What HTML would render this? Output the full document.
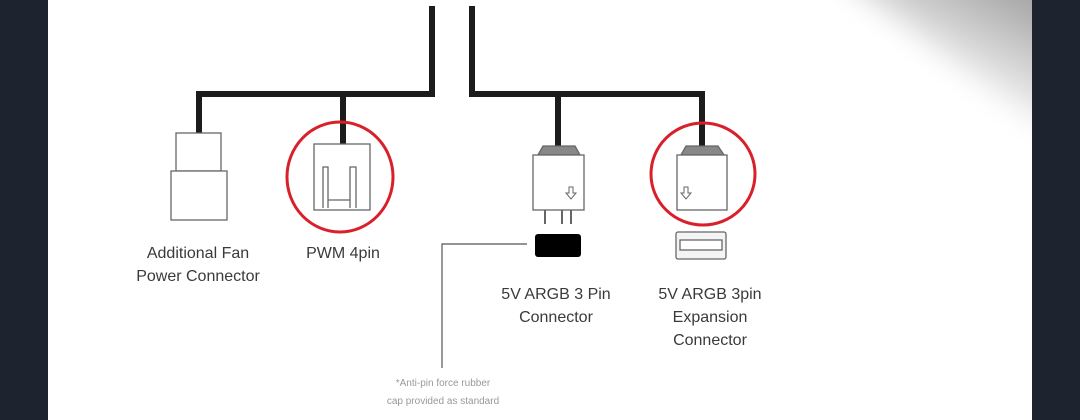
<!DOCTYPE html>
<html><head><meta charset="utf-8"><style>
html,body{margin:0;padding:0;width:1080px;height:420px;overflow:hidden;background:#1e2330}
#c{position:absolute;left:48px;top:0;width:984px;height:420px;background:#fff;overflow:hidden}
svg{position:absolute;left:0;top:0}
text{font-family:"Liberation Sans",sans-serif;fill:#3a3a3a;text-anchor:middle}
</style></head><body>
<div id="c"></div>
<svg width="1080" height="420" viewBox="0 0 1080 420">
<defs><linearGradient id="gr" gradientUnits="userSpaceOnUse" x1="1032" y1="0" x2="975" y2="110">
<stop offset="0" stop-color="#a6a6a6"/><stop offset="0.6" stop-color="#dcdcdc"/><stop offset="1" stop-color="#fff"/></linearGradient>
<filter id="bl" x="-50%" y="-50%" width="200%" height="200%"><feGaussianBlur stdDeviation="14"/></filter></defs>
<polygon points="790,-60 1100,-60 1100,170" fill="url(#gr)" filter="url(#bl)"/>
<rect x="1032" y="0" width="48" height="420" fill="#1e2330"/>
<rect x="48" y="0" width="984" height="2" fill="none"/>
<g fill="none" stroke="#1c1c1c" stroke-width="6" stroke-linejoin="miter">
<path d="M432 6 V94 H199 V134"/>
<path d="M343 94 V145"/>
<path d="M472 6 V94 H702 V146"/>
<path d="M558 94 V146"/>
</g>
<g fill="#fff" stroke="#666" stroke-width="1.3">
<rect x="176" y="133" width="45" height="38"/>
<rect x="171" y="171" width="56" height="49"/>
<rect x="314" y="144" width="56" height="66"/>
<path d="M323 208 V167 H328 V200 H350 V167 H356 V208 M328 200 V208 M350 200 V208"/>
<path d="M538 155 L543 146 H575 L580 155 Z" fill="#888"/>
<rect x="533" y="155" width="51" height="55"/>
<path d="M569 187 h4 v6 h3 l-5 6 l-5 -6 h3 z" stroke-width="1"/>
<path d="M545 210 V224 M562 210 V224 M571 210 V224" stroke-width="2"/>
<path d="M681 155 L686 146 H718 L724 155 Z" fill="#888"/>
<rect x="677" y="155" width="50" height="55"/>
<path d="M684 187 h4 v6 h3 l-5 6 l-5 -6 h3 z" stroke-width="1"/>
<rect x="676" y="232" width="50" height="27" rx="2" fill="#f4f4f4"/>
<rect x="680" y="240" width="42" height="10" fill="#fff"/>
</g>
<rect x="535" y="234" width="46" height="23" rx="3" fill="#000"/>
<path d="M527 244 H442 V368" fill="none" stroke="#555" stroke-width="1.2"/>
<g fill="none" stroke="#d9202a" stroke-width="3">
<ellipse cx="340" cy="177" rx="53" ry="55"/>
<ellipse cx="703" cy="174" rx="52" ry="51"/>
</g>
<text x="198" y="258" font-size="16">Additional Fan</text>
<text x="198" y="281" font-size="16">Power Connector</text>
<text x="343" y="258" font-size="16">PWM 4pin</text>
<text x="556" y="299" font-size="16">5V ARGB 3 Pin</text>
<text x="556" y="322" font-size="16">Connector</text>
<text x="710" y="299" font-size="16">5V ARGB 3pin</text>
<text x="710" y="322" font-size="16">Expansion</text>
<text x="710" y="345" font-size="16">Connector</text>
<text x="443" y="386" font-size="10" style="fill:#999">*Anti-pin force rubber</text>
<text x="443" y="404" font-size="10" style="fill:#999">cap provided as standard</text>
</svg>
</body></html>
